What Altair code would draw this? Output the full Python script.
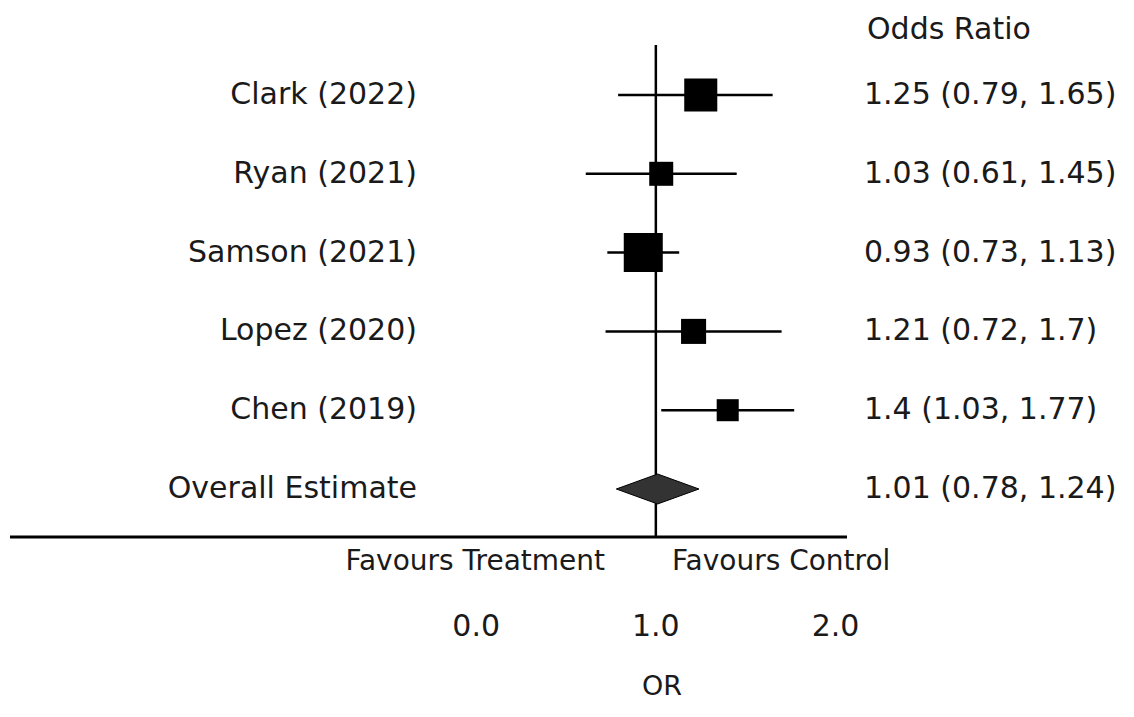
import altair as alt
import pandas as pd

# ---------------- data ----------------
studies = ["Clark (2022)", "Ryan (2021)", "Samson (2021)", "Lopez (2020)", "Chen (2019)"]
odds_ratio = [1.25, 1.03, 0.93, 1.21, 1.40]
ci_low = [0.79, 0.61, 0.73, 0.72, 1.03]
ci_high = [1.65, 1.45, 1.13, 1.70, 1.77]
weights = [25.4, 13.4, 35.4, 14.6, 11.3]
ci_text = ["1.25 (0.79, 1.65)", "1.03 (0.61, 1.45)", "0.93 (0.73, 1.13)",
           "1.21 (0.72, 1.7)", "1.4 (1.03, 1.77)"]
overall_label = "Overall Estimate"
overall_or = 1.01
overall_low = 0.78
overall_high = 1.24
overall_text = "1.01 (0.78, 1.24)"
tick_values = [0.0, 1.0, 2.0]
tick_labels = ["0.0", "1.0", "2.0"]
header_text = "Odds Ratio"
favours_left = "Favours Treatment"
favours_right = "Favours Control"
axis_title = "OR"

# ---------------- layout ----------------
W, H = 1118, 700
FONT = "DejaVu Sans"
FS = 30
FS_SMALL = 28
PX_PER_UNIT = 180.0
X_ONE_PX = 647.0
ROW0_PX = 87.0
ROW_STEP = 78.8

x_dom = [1 - X_ONE_PX / PX_PER_UNIT, 1 + (W - X_ONE_PX) / PX_PER_UNIT]
y_dom = [-ROW0_PX / ROW_STEP, (H - ROW0_PX) / ROW_STEP]
xs = alt.Scale(domain=x_dom, nice=False, zero=False)
ys = alt.Scale(domain=y_dom, nice=False, zero=False, reverse=True)

n = len(studies)
rows = list(range(n))
df = pd.DataFrame({
    "study": studies, "or": odds_ratio, "lo": ci_low, "hi": ci_high,
    "w": weights, "txt": ci_text, "row": rows,
})
ov_row = n
half = 0.19
df_ov = pd.DataFrame({
    "x": [overall_low, overall_or, overall_high],
    "y": [ov_row, ov_row - half, ov_row],
    "y2": [ov_row, ov_row + half, ov_row],
})
df_ovlab = pd.DataFrame({"lab": [overall_label], "txt": [overall_text], "row": [ov_row]})
df_ticks = pd.DataFrame({"v": tick_values, "lab": tick_labels})

X = lambda f: alt.X(f, type="quantitative", scale=xs, axis=None)
Y = lambda f: alt.Y(f, type="quantitative", scale=ys, axis=None)

ci = alt.Chart(df).mark_rule(color="black", strokeWidth=2.5).encode(
    x=X("lo"), x2="hi", y=Y("row"))
sq = alt.Chart(df).mark_square(color="black", opacity=1, filled=True).encode(
    x=X("or"), y=Y("row"),
    size=alt.Size("w:Q", scale=alt.Scale(domain=[0, 40], range=[0, 1720]), legend=None))
diamond = alt.Chart(df_ov).mark_area(orient="vertical", color="#333333",
                                     stroke="black", strokeWidth=1).encode(
    x=X("x"), y=Y("y"), y2="y2")

vline = alt.Chart(pd.DataFrame({"v": [1.0]})).mark_rule(color="black", strokeWidth=2.5).encode(
    x=X("v"), y=alt.value(37), y2=alt.value(529))
hline = alt.Chart(pd.DataFrame({"a": [0]})).mark_rule(color="black", strokeWidth=3).encode(
    x=alt.value(0), x2=alt.value(837), y=alt.value(529))

tstyle = dict(font=FONT, fontSize=FS, color="#1a1a1a", baseline="middle")
sstyle = dict(font=FONT, fontSize=FS_SMALL, color="#1a1a1a", baseline="middle")
left_lab = alt.Chart(df).mark_text(align="right", **tstyle).encode(
    x=alt.value(407), y=Y("row"), text="study")
right_lab = alt.Chart(df).mark_text(align="left", **tstyle).encode(
    x=alt.value(854), y=Y("row"), text="txt")
ov_left = alt.Chart(df_ovlab).mark_text(align="right", **tstyle).encode(
    x=alt.value(407), y=Y("row"), text="lab")
ov_right = alt.Chart(df_ovlab).mark_text(align="left", **tstyle).encode(
    x=alt.value(854), y=Y("row"), text="txt")
header = alt.Chart(pd.DataFrame({"t": [header_text]})).mark_text(align="left", **tstyle).encode(
    x=alt.value(857), y=alt.value(22), text="t")
fav_l = alt.Chart(pd.DataFrame({"t": [favours_left]})).mark_text(align="right", **sstyle).encode(
    x=alt.value(595), y=alt.value(554), text="t")
fav_r = alt.Chart(pd.DataFrame({"t": [favours_right]})).mark_text(align="left", **sstyle).encode(
    x=alt.value(662), y=alt.value(554), text="t")
ticks = alt.Chart(df_ticks).mark_text(align="center", **tstyle).encode(
    x=X("v"), y=alt.value(619), text="lab")
xtitle = alt.Chart(pd.DataFrame({"t": [axis_title]})).mark_text(
    align="center", font=FONT, fontSize=27, color="#1a1a1a", baseline="middle").encode(
    x=alt.value(652), y=alt.value(679), text="t")

chart = alt.layer(
    vline, hline, ci, sq, diamond, left_lab, right_lab, ov_left, ov_right,
    header, fav_l, fav_r, ticks, xtitle,
).properties(
    width=W, height=H, padding=0, background="white",
    autosize=alt.AutoSizeParams(type="fit", contains="padding"),
).configure_view(stroke="transparent", strokeWidth=0)

chart.save("out.html", embed_options={"renderer": "svg", "actions": False})
